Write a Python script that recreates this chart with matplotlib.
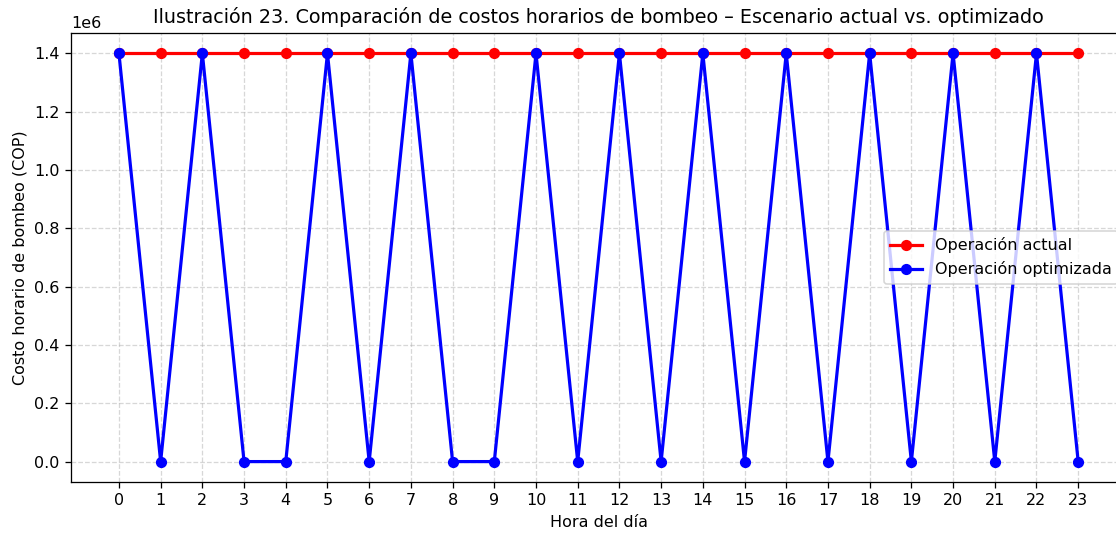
import numpy as np
from matplotlib import pyplot as plt

horas = np.arange(24)
costo_actual = [1.4e6] * 24
costo_optimizado = [1.4e6, 0, 1.4e6, 0, 0, 1.4e6, 0, 1.4e6, 0, 0, 1.4e6, 0,
                    1.4e6, 0, 1.4e6, 0, 1.4e6, 0, 1.4e6, 0, 1.4e6, 0, 1.4e6, 0]

dpi = 115
fig = plt.figure(figsize=(1116 / dpi, 533 / dpi), dpi=dpi)
ax = fig.add_axes([0.0636, 0.0957, 0.9455, 0.8424])

ax.plot(horas, costo_actual, 'o-', color='red', linewidth=2, label='Operación actual')
ax.plot(horas, costo_optimizado, 'o-', color='blue', linewidth=2, label='Operación optimizada')

ax.set_title('Ilustración 23. Comparación de costos horarios de bombeo – Escenario actual vs. optimizado', fontsize=12)
ax.set_xlabel('Hora del día')
ax.set_ylabel('Costo horario de bombeo (COP)')
ax.set_xticks(horas)
ax.grid(True, linestyle='--', alpha=0.5)
ax.legend(loc='center right')

fig.savefig('out.png', dpi=dpi)
